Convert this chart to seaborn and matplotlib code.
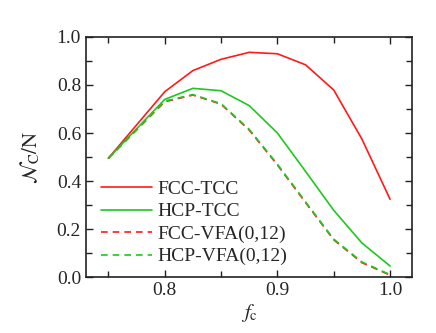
import numpy as np
import pandas as pd
import matplotlib
matplotlib.use("Agg")
import matplotlib.pyplot as plt
import seaborn as sns
from matplotlib.ticker import MultipleLocator
from matplotlib.lines import Line2D

fc = [0.75, 0.8, 0.825, 0.85, 0.875, 0.9, 0.925, 0.95, 0.975, 1.0]
fcc_tcc = [0.495, 0.772, 0.860, 0.907, 0.936, 0.930, 0.884, 0.779, 0.575, 0.324]
hcp_tcc = [0.495, 0.740, 0.786, 0.776, 0.714, 0.600, 0.440, 0.278, 0.142, 0.046]
fcc_vfa = [0.495, 0.730, 0.758, 0.720, 0.612, 0.467, 0.310, 0.155, 0.060, 0.008]
hcp_vfa = [0.495, 0.733, 0.760, 0.722, 0.615, 0.470, 0.313, 0.158, 0.063, 0.010]
labels = ["FCC-TCC", "HCP-TCC", "FCC-VFA(0,12)", "HCP-VFA(0,12)"]

sns.set_style("ticks")
plt.rcParams['font.family'] = ['Liberation Serif', 'DejaVu Serif']
plt.rcParams['mathtext.fontset'] = 'stix'

fig = plt.figure(figsize=(4.36, 3.33), dpi=100)
ax = fig.add_axes([0.197, 0.168, 0.748, 0.721])

df = pd.DataFrame({
    "fc": fc * 4,
    "val": fcc_tcc + hcp_tcc + fcc_vfa + hcp_vfa,
    "series": sum([[l] * len(fc) for l in labels], []),
})
palette = {labels[0]: "#ff1a1a", labels[1]: "#1ec81e", labels[2]: "#ff1a1a", labels[3]: "#1ec81e"}
styles = {labels[0]: "", labels[1]: "", labels[2]: (4, 3), labels[3]: (4, 3)}
sns.lineplot(data=df, x="fc", y="val", hue="series", style="series",
             palette=palette, dashes=styles, linewidth=1.2, ax=ax, legend=False)

ax.set_xlim(0.73, 1.0195)
ax.set_ylim(0.0, 1.0)
ax.xaxis.set_major_locator(MultipleLocator(0.1))
ax.xaxis.set_minor_locator(MultipleLocator(0.05))
ax.yaxis.set_major_locator(MultipleLocator(0.2))
ax.yaxis.set_minor_locator(MultipleLocator(0.1))
ax.tick_params(which='both', direction='in', top=True, right=True, labelsize=14,
               color='#222222', width=1.0)
ax.tick_params(which='major', length=5)
ax.tick_params(which='minor', length=4)
for s in ax.spines.values():
    s.set_linewidth(1.2)
    s.set_color('#222222')

ax.set_xlabel(r'$f_\mathrm{c}$', fontsize=15, labelpad=2)
ax.set_ylabel(r'$\mathcal{N}_\mathrm{C}/\mathrm{N}$', fontsize=15, labelpad=10)

handles = [Line2D([], [], color=palette[l], lw=1.2,
                  linestyle='-' if styles[l] == "" else (0, (4, 3))) for l in labels]
ax.legend(handles, labels, loc='lower left', bbox_to_anchor=(0.012, 0.0),
          frameon=False, fontsize=14, handlelength=2.6, handletextpad=0.3,
          labelspacing=0.25, borderaxespad=0.2)

fig.savefig("out.png", dpi=100)
